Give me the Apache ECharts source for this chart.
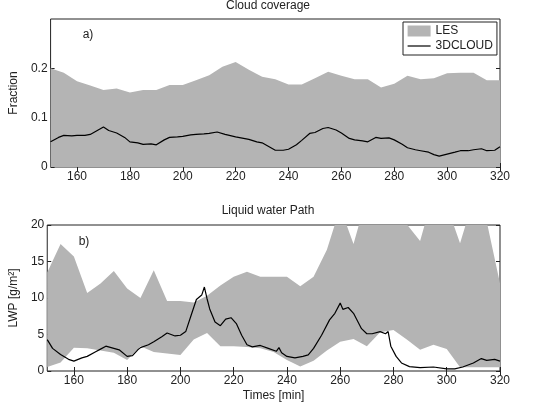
<!DOCTYPE html>
<html>
<head>
<meta charset="utf-8">
<script src="https://cdn.jsdelivr.net/npm/echarts@6/dist/echarts.min.js"></script>
<style>
  html, body { margin: 0; padding: 0; background: #fff; }
  #chart { width: 533px; height: 403px; }
</style>
</head>
<body>
<div id="chart"></div>
<script>
// ---- data ----
const xTicks = [160, 180, 200, 220, 240, 260, 280, 300, 320]
const coverTicks = [0, 0.1, 0.2]
const lwpTicks = [0, 5, 10, 15, 20]

// LES envelope, every 5 min
const lesTimes = [150, 155, 160, 165, 170, 175, 180, 185, 190, 195, 200, 205, 210, 215, 220, 225, 230, 235,
  240, 245, 250, 255, 260, 265, 270, 275, 280, 285, 290, 295, 300, 305, 310, 315, 320]
const lesCoverMax = [0.200, 0.191, 0.174, 0.165, 0.156, 0.159, 0.151, 0.156, 0.156, 0.166, 0.166, 0.176,
  0.186, 0.203, 0.213, 0.197, 0.183, 0.178, 0.167, 0.167, 0.180, 0.193, 0.185, 0.178, 0.178, 0.161,
  0.169, 0.185, 0.178, 0.180, 0.190, 0.191, 0.191, 0.176, 0.176]
const lesLwpMin = [0.55, 1.15, 3.2, 3.1, 2.8, 2.5, 1.5, 3.4, 2.6, 2.4, 2.2, 4.3, 5.2, 3.4, 3.4, 3.3, 3.1, 2.6,
  1.5, 0.6, 1.4, 2.8, 4.0, 4.4, 3.4, 5.3, 5.6, 4.3, 2.9, 3.6, 3.0, 0.5, 0.5, 0.5, 0.5]
const lesLwpMax = [13.5, 17.4, 15.7, 10.7, 12.0, 13.7, 11.3, 10.0, 13.8, 9.6, 9.6, 9.4, 10.3, 11.7, 12.9,
  13.6, 12.9, 12.9, 12.9, 11.6, 12.9, 16.6, 22.4, 17.4, 23.9, 24.0, 23.0, 20.1, 17.8, 24.3, 22.7, 17.5,
  23.5, 20.5, 12.0]

// 3DCLOUD cloud coverage
const cloudTimes = [150, 153, 155, 158, 160, 163, 165, 168, 170, 172, 175, 178, 180, 183, 185, 188, 190,
  193, 195, 198, 200, 203, 205, 208, 210, 213, 216, 220, 223, 225, 228, 230, 233, 235, 238, 240, 243,
  245, 248, 250, 253, 255, 258, 260, 263, 265, 268, 270, 273, 275, 278, 280, 283, 285, 288, 290, 293,
  295, 297, 300, 303, 305, 308, 310, 313, 315, 318, 320]
const cloudCover = [0.051, 0.060, 0.064, 0.063, 0.064, 0.064, 0.066, 0.075, 0.081, 0.074, 0.069, 0.060,
  0.051, 0.049, 0.046, 0.047, 0.045, 0.055, 0.060, 0.061, 0.062, 0.065, 0.066, 0.067, 0.068, 0.071,
  0.066, 0.061, 0.058, 0.056, 0.051, 0.049, 0.040, 0.034, 0.034, 0.036, 0.045, 0.054, 0.068, 0.070,
  0.078, 0.080, 0.075, 0.069, 0.058, 0.055, 0.053, 0.051, 0.060, 0.058, 0.059, 0.055, 0.046, 0.039,
  0.035, 0.033, 0.030, 0.025, 0.022, 0.026, 0.030, 0.033, 0.033, 0.035, 0.037, 0.033, 0.034, 0.041]

// 3DCLOUD liquid water path
const lwpTimes = [150, 152, 155, 158, 160, 163, 165, 168, 170, 172, 175, 177, 180, 182, 184, 185, 188, 190,
  193, 195, 198, 200, 202, 204, 206, 208, 209, 210, 211, 213, 215, 217, 219, 221, 223, 225, 227, 230,
  233, 236, 237, 238, 240, 243, 246, 248, 250, 253, 256, 258, 260, 261, 263, 265, 268, 270, 272, 275,
  277, 278, 279, 281, 283, 286, 290, 295, 300, 303, 306, 310, 313, 315, 318, 320]
const lwpCloud = [4.3, 3.1, 2.25, 1.6, 1.35, 1.8, 2.0, 2.6, 3.0, 3.4, 3.1, 2.9, 2.0, 2.1, 2.9, 3.2, 3.6, 4.0,
  4.7, 5.2, 4.8, 4.9, 5.4, 7.6, 9.8, 10.4, 11.5, 9.9, 8.5, 6.7, 6.2, 7.1, 7.3, 6.5, 4.9, 3.6, 3.3, 3.5,
  3.1, 2.7, 3.2, 2.5, 2.0, 1.8, 2.0, 2.2, 3.1, 4.9, 7.0, 7.9, 9.3, 8.45, 8.7, 7.9, 5.8, 5.1, 5.1, 5.4,
  5.1, 5.4, 3.4, 2.0, 1.1, 0.6, 0.45, 0.55, 0.3, 0.3, 0.55, 1.1, 1.7, 1.45, 1.6, 1.35]

const FONT = 'Liberation Sans'
const GRAY = '#b4b4b4'
const INK = '#222'

const zip = (xs, ys) => xs.map((x, i) => [x, ys[i]])

// 框线由 grid 画，坐标轴只负责刻度和标签
const makeX = (gridIndex, position, withLabels, name) => ({
  type: 'value', gridIndex, position, min: 150, max: 320,
  name: name || '', nameLocation: 'middle', nameGap: 19,
  nameTextStyle: {fontFamily: FONT, fontSize: 12, color: INK},
  axisLine: {show: false},
  axisTick: {show: true, inside: true, length: 4, customValues: xTicks, lineStyle: {color: INK}},
  axisLabel: {show: withLabels, customValues: xTicks, margin: 4, fontFamily: FONT, fontSize: 12, color: INK},
  splitLine: {show: false}
})

const makeY = (gridIndex, position, max, ticks, withLabels, name, gap) => ({
  type: 'value', gridIndex, position, min: 0, max,
  name: name || '', nameLocation: 'middle', nameGap: gap || 20,
  nameTextStyle: {fontFamily: FONT, fontSize: 12, color: INK},
  axisLine: {show: false},
  axisTick: {show: true, inside: true, length: 4, customValues: ticks, lineStyle: {color: INK}},
  axisLabel: {show: withLabels, customValues: ticks, margin: 3, fontFamily: FONT, fontSize: 12, color: INK},
  splitLine: {show: false}
})

const textBox = (text, left, top) => ({
  text, left, top, textAlign: 'center', padding: 0,
  textStyle: {fontFamily: FONT, fontSize: 12, fontWeight: 'normal', color: INK}
})

/**
 * LES 上下包络之间的带状区域：用 custom 系列按坐标轴换算成多边形
 */
const renderBand = (params, api) => {
  if (params.dataIndex !== 0) return null
  const upper = lesTimes.map((t, i) => api.coord([t, lesLwpMax[i]]))
  const lower = lesTimes.map((t, i) => api.coord([t, lesLwpMin[i]])).reverse()
  return {
    type: 'polygon',
    shape: {points: upper.concat(lower)},
    style: {fill: GRAY, stroke: null}
  }
}

const option = {
  animation: false,
  title: [
    textBox('Cloud coverage', 268, 0),
    textBox('Liquid water Path', 268, 205),
    textBox('a)', 88, 29),
    textBox('b)', 84, 236)
  ],
  grid: [
    {left: 37, right: 33, top: 19, height: 148, show: true, borderColor: INK, borderWidth: 1, backgroundColor: 'transparent'},
    {left: 37, right: 33, top: 225, height: 149, show: true, borderColor: INK, borderWidth: 1, backgroundColor: 'transparent'}
  ],
  xAxis: [
    makeX(0, 'bottom', true),
    makeX(0, 'top', false),
    makeX(1, 'bottom', true, 'Times [min]'),
    makeX(1, 'top', false)
  ],
  yAxis: [
    makeY(0, 'left', 0.3, coverTicks, true, 'Fraction', 24),
    makeY(0, 'right', 0.3, coverTicks, false),
    makeY(1, 'left', 20, lwpTicks, true, 'LWP [g/m²]', 22),
    makeY(1, 'right', 20, lwpTicks, false)
  ],
  legend: {
    data: [
      {name: 'LES', icon: 'rect', itemStyle: {color: GRAY}},
      // 线型图例：隐藏中间的圆点，只留线
      {name: '3DCLOUD', itemStyle: {color: 'rgba(0,0,0,0)', borderWidth: 0, opacity: 0}, lineStyle: {color: '#000', width: 1.2}}
    ],
    orient: 'vertical',
    left: 403, top: 22,
    padding: [3, 4, 3, 4],
    itemGap: 3,
    itemWidth: 23, itemHeight: 11,
    borderColor: INK, borderWidth: 1, borderRadius: 0,
    backgroundColor: '#fff',
    textStyle: {fontFamily: FONT, fontSize: 12, color: INK}
  },
  series: [
    {
      name: 'LES', type: 'line', xAxisIndex: 0, yAxisIndex: 0,
      data: zip(lesTimes, lesCoverMax),
      symbol: 'none', lineStyle: {width: 0}, itemStyle: {color: GRAY},
      areaStyle: {color: GRAY, opacity: 1}
    },
    {
      name: '3DCLOUD', type: 'line', xAxisIndex: 0, yAxisIndex: 0,
      data: zip(cloudTimes, cloudCover),
      symbol: 'none', showSymbol: false,
      lineStyle: {width: 1.2, color: '#000'}, itemStyle: {color: '#000'}, z: 5
    },
    {
      name: 'LES lwp', type: 'custom', xAxisIndex: 2, yAxisIndex: 2,
      coordinateSystem: 'cartesian2d', clip: true,
      data: zip(lesTimes, lesLwpMax),
      renderItem: renderBand, z: 2
    },
    {
      name: '3DCLOUD lwp', type: 'line', xAxisIndex: 2, yAxisIndex: 2,
      data: zip(lwpTimes, lwpCloud),
      symbol: 'none', lineStyle: {width: 1.2, color: '#000'}, itemStyle: {color: '#000'}, z: 5
    }
  ]
}

const chartInstance = echarts.init(document.getElementById('chart'), null, {renderer: 'canvas'})
chartInstance.setOption(option)
</script>
</body>
</html>
